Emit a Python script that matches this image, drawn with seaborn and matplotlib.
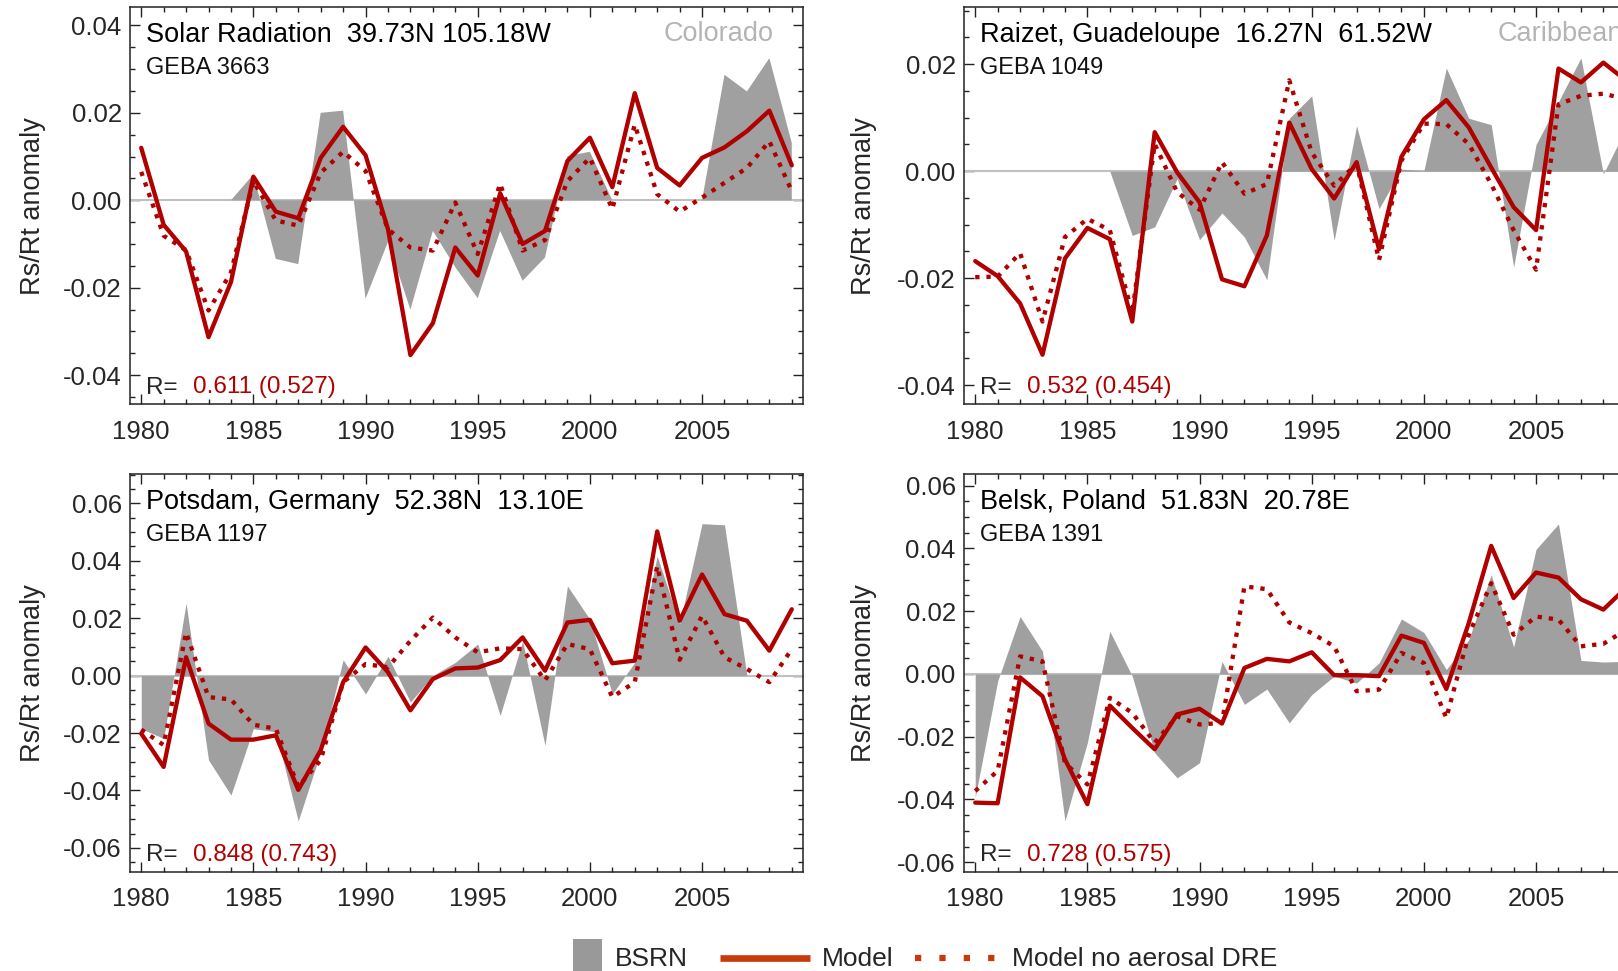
import numpy as np
import pandas as pd
import matplotlib
matplotlib.use("Agg")
import matplotlib.pyplot as plt
import seaborn as sns
from matplotlib.lines import Line2D
from matplotlib.patches import Rectangle
from matplotlib.ticker import MultipleLocator, FormatStrFormatter

# ---------------- data ----------------
years = list(range(1980, 2010))
nan = np.nan

colorado_bsrn = [nan, nan, nan, nan, 0.0000, 0.0059, -0.0134, -0.0146, 0.0200, 0.0205,
                 -0.0225, -0.0095, -0.0250, -0.0070, -0.0153, -0.0224, -0.0070, -0.0184, -0.0131, 0.0101,
                 0.0111, 0.0000, nan, nan, nan, 0.0000, 0.0287, 0.0249, 0.0325, 0.0131]
colorado_model = [0.0120, -0.0056, -0.0117, -0.0313, -0.0187, 0.0054, -0.0026, -0.0041, 0.0097, 0.0168,
                  0.0103, -0.0066, -0.0354, -0.0281, -0.0108, -0.0172, 0.0016, -0.0100, -0.0070, 0.0090,
                  0.0143, 0.0030, 0.0245, 0.0074, 0.0034, 0.0097, 0.0121, 0.0158, 0.0205, 0.0080]
colorado_noaer = [0.0065, -0.0081, -0.0114, -0.0252, -0.0165, 0.0044, -0.0046, -0.0058, 0.0063, 0.0111,
                  0.0067, -0.0066, -0.0108, -0.0115, -0.0005, -0.0123, 0.0038, -0.0115, -0.0091, 0.0044,
                  0.0097, -0.0020, 0.0173, 0.0014, -0.0026, 0.0006, 0.0040, 0.0074, 0.0135, 0.0021]

guad_bsrn = [nan, nan, nan, nan, nan, nan, 0.0000, -0.0120, -0.0104, -0.0014,
             -0.0128, -0.0078, -0.0123, -0.0203, 0.0099, 0.0141, -0.0129, 0.0085, -0.0070, 0.0004,
             0.0001, 0.0193, 0.0099, 0.0087, -0.0179, 0.0050, 0.0130, 0.0212, -0.0005, 0.0080]
guad_model = [-0.0168, -0.0196, -0.0247, -0.0343, -0.0163, -0.0106, -0.0127, -0.0281, 0.0073, -0.0002,
              -0.0058, -0.0202, -0.0215, -0.0120, 0.0091, 0.0004, -0.0051, 0.0017, -0.0146, 0.0027,
              0.0097, 0.0133, 0.0082, 0.0007, -0.0067, -0.0110, 0.0192, 0.0166, 0.0203, 0.0170]
guad_noaer = [-0.0198, -0.0197, -0.0153, -0.0281, -0.0123, -0.0089, -0.0110, -0.0265, 0.0051, -0.0039,
              -0.0072, 0.0017, -0.0042, -0.0024, 0.0170, 0.0035, -0.0027, 0.0014, -0.0166, 0.0020,
              0.0089, 0.0088, 0.0051, -0.0024, -0.0110, -0.0184, 0.0125, 0.0141, 0.0145, 0.0135]

potsdam_bsrn = [-0.0185, -0.0219, 0.0252, -0.0294, -0.0416, -0.0185, -0.0196, -0.0506, -0.0266, 0.0055,
                -0.0064, 0.0067, -0.0092, 0.0000, 0.0046, 0.0110, -0.0139, 0.0120, -0.0243, 0.0312,
                0.0196, -0.0064, 0.0046, 0.0416, 0.0180, 0.0529, 0.0525, 0.0000, nan, nan]
potsdam_model = [-0.0202, -0.0318, 0.0064, -0.0167, -0.0223, -0.0223, -0.0208, -0.0398, -0.0260, -0.0023,
                 0.0098, 0.0012, -0.0121, -0.0012, 0.0025, 0.0028, 0.0054, 0.0133, 0.0017, 0.0185,
                 0.0194, 0.0043, 0.0052, 0.0502, 0.0191, 0.0352, 0.0214, 0.0191, 0.0087, 0.0231]
potsdam_noaer = [-0.0188, -0.0242, 0.0150, -0.0075, -0.0083, -0.0171, -0.0185, -0.0387, -0.0294, -0.0023,
                 0.0040, 0.0029, 0.0121, 0.0202, 0.0133, 0.0081, 0.0095, 0.0092, -0.0017, 0.0110,
                 0.0092, -0.0075, -0.0023, 0.0381, 0.0055, 0.0208, 0.0064, 0.0023, -0.0023, 0.0092]

belsk_bsrn = [-0.0394, -0.0023, 0.0183, 0.0072, -0.0468, -0.0219, 0.0136, -0.0007, -0.0251, -0.0331,
              -0.0283, 0.0040, -0.0097, -0.0048, -0.0156, -0.0066, -0.0007, -0.0029, 0.0035, 0.0175,
              0.0132, 0.0014, 0.0109, 0.0316, 0.0086, 0.0397, 0.0478, 0.0043, 0.0038, 0.0040]
belsk_model = [-0.0410, -0.0412, -0.0011, -0.0071, -0.0272, -0.0415, -0.0101, -0.0172, -0.0240, -0.0129,
               -0.0111, -0.0158, 0.0019, 0.0048, 0.0040, 0.0069, -0.0004, -0.0004, -0.0007, 0.0122,
               0.0099, -0.0048, 0.0162, 0.0408, 0.0242, 0.0323, 0.0307, 0.0238, 0.0205, 0.0274]
belsk_noaer = [-0.0373, -0.0309, 0.0056, 0.0040, -0.0283, -0.0352, -0.0076, -0.0124, -0.0219, -0.0135,
               -0.0161, -0.0156, 0.0279, 0.0270, 0.0164, 0.0130, 0.0088, -0.0055, -0.0050, 0.0067,
               0.0035, -0.0140, 0.0125, 0.0289, 0.0125, 0.0183, 0.0173, 0.0088, 0.0096, 0.0140]

titles = ["Solar Radiation  39.73N 105.18W", "Raizet, Guadeloupe  16.27N  61.52W",
          "Potsdam, Germany  52.38N  13.10E", "Belsk, Poland  51.83N  20.78E"]
geba_ids = ["GEBA 3663", "GEBA 1049", "GEBA 1197", "GEBA 1391"]
regions = ["Colorado", "Caribbean", "", ""]
r_values = ["0.611 (0.527)", "0.532 (0.454)", "0.848 (0.743)", "0.728 (0.575)"]
ylims = [(-0.0467, 0.0442), (-0.0436, 0.0307), (-0.0684, 0.0702), (-0.0631, 0.0637)]
legend_labels = ["BSRN", "Model", "Model no aerosal DRE"]

# ---------------- style ----------------
sns.set_style("ticks")
plt.rcParams["font.family"] = ["Liberation Sans", "DejaVu Sans"]
plt.rcParams["axes.unicode_minus"] = False

RED = "#b00000"
GREY = "#a0a0a0"
W, H = 1618, 971
fig = plt.figure(figsize=(W / 100, H / 100), dpi=100)

# axes boxes in pixels: left, top, width, height
boxes = [(130, 7, 673, 397.5), (964, 7, 673, 397.5), (130, 474, 673, 398), (964, 474, 673, 398)]
ylabel_x = [-0.125, -0.129, -0.125, -0.129]
region_offset = [29, 14, 29, 14]

series = [(colorado_bsrn, colorado_model, colorado_noaer),
          (guad_bsrn, guad_model, guad_noaer),
          (potsdam_bsrn, potsdam_model, potsdam_noaer),
          (belsk_bsrn, belsk_model, belsk_noaer)]

for i, (bsrn, model, noaer) in enumerate(series):
    l, t, w, h = boxes[i]
    ax = fig.add_axes([l / W, 1 - (t + h) / H, w / W, h / H])
    df = pd.DataFrame({"year": years, "bsrn": bsrn, "model": model, "noaer": noaer})
    ax.axhline(0, color="#c0c0c0", lw=1.5, zorder=1)
    ax.fill_between(df["year"], 0, df["bsrn"], color=GREY, lw=0, zorder=2)
    sns.lineplot(data=df, x="year", y="noaer", ax=ax, color=RED, lw=3.1,
                 linestyle=(0, (1, 1.6)), zorder=3)
    sns.lineplot(data=df, x="year", y="model", ax=ax, color=RED, lw=3.1, zorder=4)
    ax.set_xlim(1979.5, 2009.5)
    ax.set_ylim(*ylims[i])
    ax.xaxis.set_major_locator(MultipleLocator(5))
    ax.xaxis.set_minor_locator(MultipleLocator(1))
    ax.yaxis.set_major_locator(MultipleLocator(0.02))
    ax.yaxis.set_minor_locator(MultipleLocator(0.005))
    ax.yaxis.set_major_formatter(FormatStrFormatter("%.2f"))
    ax.tick_params(which="both", direction="in", top=True, right=True, width=1.0, color="#222222")
    ax.tick_params(which="major", length=7, labelsize=18.5, pad=6)
    ax.tick_params(which="minor", length=3.8)
    ax.tick_params(axis="x", which="major", pad=11)
    for s in ax.spines.values():
        s.set_linewidth(1.1)
        s.set_color("#222222")
    ax.set_xlabel("")
    ax.set_ylabel("Rs/Rt anomaly", fontsize=19.5)
    ax.yaxis.set_label_coords(ylabel_x[i], 0.5)
    ax.text(16 / w, 1 - 28 / h, titles[i], transform=ax.transAxes, fontsize=19.5,
            va="center", ha="left", color="black")
    ax.text(16 / w, 1 - 61 / h, geba_ids[i], transform=ax.transAxes, fontsize=17,
            va="center", ha="left", color="#111111")
    if regions[i]:
        ax.text(1 - region_offset[i] / w, 1 - 27 / h, regions[i], transform=ax.transAxes,
                fontsize=19.5, va="center", ha="right", color="#b4b4b4")
    ax.text(16 / w, 17 / h, "R=", transform=ax.transAxes, fontsize=17.5, va="center", ha="left")
    ax.text(63 / w, 17 / h, r_values[i], transform=ax.transAxes, fontsize=17.5,
            va="center", ha="left", color="#b00000")

# ---------------- legend (figure coordinates) ----------------
ly = 959
fig.add_artist(Rectangle((573 / W, 0), 29 / W, 32 / H, transform=fig.transFigure,
                         color="#999999", lw=0))
fig.text(615 / W, 1 - ly / H, legend_labels[0], fontsize=19, va="center", ha="left")
fig.add_artist(Line2D([720 / W, 810 / W], [1 - 958 / H] * 2, transform=fig.transFigure,
                      color="#c83a0a", lw=4.8, solid_capstyle="butt"))
fig.text(822 / W, 1 - ly / H, legend_labels[1], fontsize=19, va="center", ha="left")
fig.add_artist(Line2D([915 / W, 996 / W], [1 - 958 / H] * 2, transform=fig.transFigure,
                      color="#c83a0a", lw=4.5, linestyle=(0, (1, 2.9)), dash_capstyle="butt"))
fig.text(1012 / W, 1 - ly / H, legend_labels[2], fontsize=19, va="center", ha="left")

fig.savefig("out.png", dpi=100)
